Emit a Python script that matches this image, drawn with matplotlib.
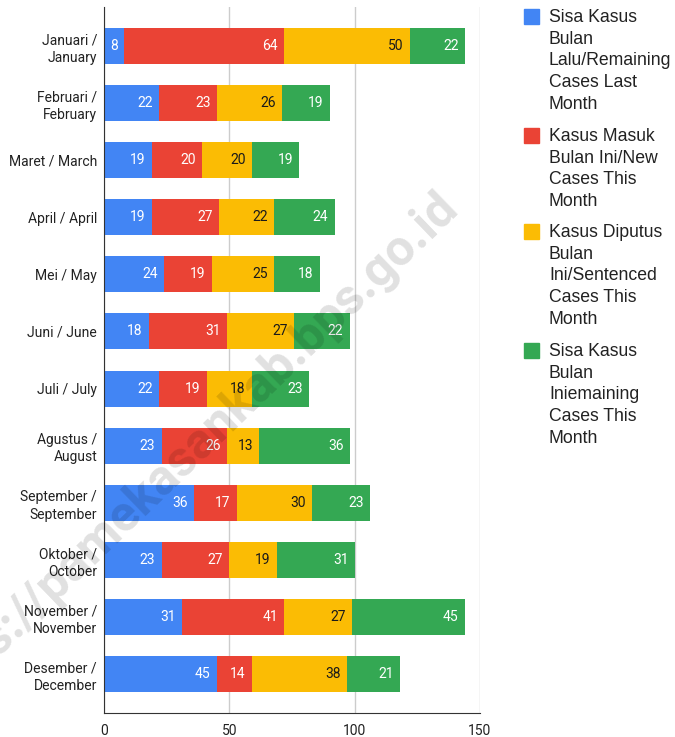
import matplotlib
matplotlib.use('Agg')

import matplotlib.pyplot as plt
from matplotlib.patches import Rectangle
import numpy as np

# Data
months = ['Januari /\nJanuary', 'Februari /\nFebruary', 'Maret / March', 'April / April',
          'Mei / May', 'Juni / June', 'Juli / July', 'Agustus /\nAugust',
          'September /\nSeptember', 'Oktober /\nOctober', 'November /\nNovember',
          'Desember /\nDecember']
remaining_last = [8, 22, 19, 19, 24, 18, 22, 23, 36, 23, 31, 45]
new_cases = [64, 23, 20, 27, 19, 31, 19, 26, 17, 27, 41, 14]
sentenced = [50, 26, 20, 22, 25, 27, 18, 13, 30, 19, 27, 38]
remaining_this = [22, 19, 19, 24, 18, 22, 23, 36, 23, 31, 45, 21]

series_names = ['Sisa Kasus\nBulan\nLalu/Remaining\nCases Last\nMonth',
                'Kasus Masuk\nBulan Ini/New\nCases This\nMonth',
                'Kasus Diputus\nBulan\nIni/Sentenced\nCases This\nMonth',
                'Sisa Kasus\nBulan\nIniemaining\nCases This\nMonth']
colors = ['#4285F4', '#EA4335', '#FBBC04', '#34A853']
label_colors = ['white', 'white', '#1a1a1a', 'white']

plt.rcParams['font.family'] = ['Roboto', 'DejaVu Sans']

fig = plt.figure(figsize=(6.75, 7.37), dpi=100)
ax = fig.add_axes([0.154, 0.0326, 0.557, 0.958])

y = np.arange(len(months))
left = np.zeros(len(months))
for vals, col, tcol in zip([remaining_last, new_cases, sentenced, remaining_this],
                           colors, label_colors):
    vals = np.array(vals)
    bars = ax.barh(y, vals, left=left, height=0.63, color=col, zorder=2)
    for b, v in zip(bars, vals):
        ax.annotate(str(v), xy=(b.get_x() + b.get_width(), b.get_y() + b.get_height() / 2),
                    xytext=(-4.5, 0), textcoords='offset points',
                    ha='right', va='center', fontsize=10, color=tcol, zorder=3)
    left += vals

ax.set_xlim(0, 150)
ax.set_ylim(11.68, -0.68)
ax.set_xticks([0, 50, 100, 150])
ax.set_yticks(y)
ax.set_yticklabels(months, fontsize=10, color='#222222', linespacing=1.3)
ax.tick_params(axis='x', labelsize=10, colors='#222222', length=0, pad=8)
ax.tick_params(axis='y', length=0, pad=5)
ax.grid(axis='x', color='#cccccc', linewidth=1, zorder=0)

for s in ['top', 'right']:
    ax.spines[s].set_visible(False)
ax.spines['left'].set_color('#333333')
ax.spines['bottom'].set_color('#333333')
ax.spines['left'].set_zorder(4)

# Legend drawn on the right
W, H = 675, 737
entry_tops = [17, 136, 232, 351]
for name, col, top in zip(series_names, colors, entry_tops):
    fig.patches.append(Rectangle((524 / W, 1 - (top + 7) / H), 15 / W, 15 / H,
                                 transform=fig.transFigure, color=col))
    fig.text(549 / W, 1 - (top - 8) / H, name, fontsize=12.7, color='#222222',
             family=['Liberation Sans', 'DejaVu Sans'],
             va='top', ha='left', linespacing=1.36)

# Watermark
fig.text(460 / W, 1 - 210 / H, 'https://pamekasankab.bps.go.id', fontsize=36,
         fontweight='bold', color='black', alpha=0.12, rotation=44,
         rotation_mode='anchor', ha='right', va='baseline', zorder=10)

plt.savefig('out.png', dpi=100)
plt.close(fig)
